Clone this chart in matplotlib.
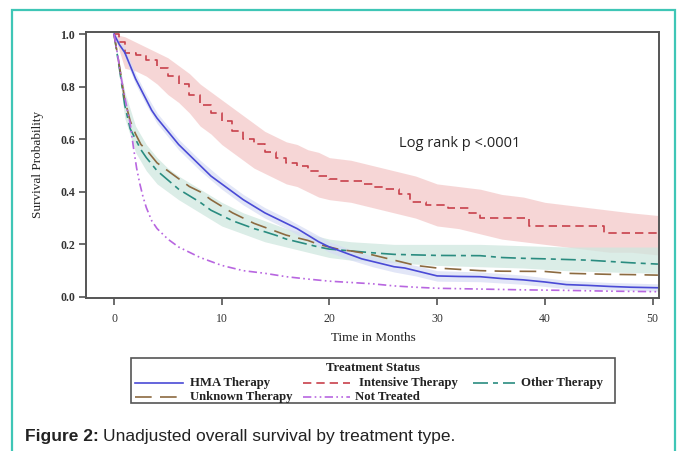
import matplotlib
matplotlib.use("Agg")
import matplotlib.pyplot as plt
from matplotlib.patches import Rectangle
from matplotlib.lines import Line2D

# ---------------- data ----------------
series_names = ["HMA Therapy", "Intensive Therapy", "Other Therapy", "Unknown Therapy", "Not Treated"]

t_hma = [0, 0.5, 1, 1.5, 2, 2.5, 3, 3.5, 4, 5, 6, 7, 8, 9, 10, 11, 12, 13, 14, 15, 16, 17, 18, 19, 20,
         21, 22, 23, 24, 25, 26, 27, 28, 29, 30, 32, 34, 36, 38, 40, 42, 44, 46, 48, 50.5]
s_hma = [1.0, 0.96, 0.93, 0.88, 0.83, 0.79, 0.75, 0.71, 0.68, 0.63, 0.58, 0.54, 0.50, 0.46, 0.43, 0.40,
         0.37, 0.345, 0.32, 0.30, 0.28, 0.26, 0.235, 0.21, 0.19, 0.175, 0.16, 0.145, 0.135, 0.125, 0.115,
         0.11, 0.10, 0.09, 0.08, 0.078, 0.077, 0.07, 0.065, 0.057, 0.047, 0.044, 0.04, 0.037, 0.035]

t_int = [0, 0.5, 1, 2, 3, 4, 5, 6, 7, 8, 9, 10, 11, 12, 13, 14, 15, 16, 17, 18, 19, 20, 21, 23, 24, 25,
         26.5, 27.5, 29, 31, 33, 34, 38.5, 45.5, 50.5]
s_int = [1.0, 0.97, 0.93, 0.92, 0.90, 0.87, 0.84, 0.81, 0.77, 0.73, 0.70, 0.67, 0.63, 0.60, 0.58, 0.55,
         0.53, 0.51, 0.50, 0.48, 0.46, 0.45, 0.44, 0.43, 0.42, 0.41, 0.39, 0.36, 0.35, 0.34, 0.32, 0.30,
         0.27, 0.245, 0.245]

t_oth = [0, 0.5, 1, 1.5, 2, 2.5, 3, 4, 5, 6, 7, 8, 9, 10, 11, 12, 13, 14, 15, 16, 17, 18, 19, 20, 22,
         24, 26, 28, 30, 34, 36, 38, 40, 44, 46, 48, 50.5]
s_oth = [1.0, 0.87, 0.73, 0.64, 0.60, 0.56, 0.53, 0.48, 0.445, 0.41, 0.385, 0.36, 0.33, 0.31, 0.29,
         0.275, 0.26, 0.248, 0.235, 0.22, 0.21, 0.20, 0.19, 0.182, 0.175, 0.168, 0.162, 0.16, 0.158,
         0.157, 0.15, 0.147, 0.145, 0.14, 0.135, 0.13, 0.125]

t_unk = [0, 0.5, 1, 1.5, 2, 2.5, 3, 4, 5, 6, 7, 8, 9, 10, 11, 12, 13, 14, 15, 16, 17, 18, 19, 20, 21,
         22, 23, 24, 25, 26, 27, 28, 30, 32, 34, 36, 40, 42, 44, 46, 48, 50.5]
s_unk = [1.0, 0.88, 0.75, 0.67, 0.62, 0.58, 0.56, 0.51, 0.48, 0.45, 0.42, 0.40, 0.37, 0.345, 0.32, 0.30,
         0.28, 0.265, 0.25, 0.235, 0.225, 0.215, 0.20, 0.19, 0.18, 0.175, 0.168, 0.16, 0.15, 0.14, 0.13,
         0.12, 0.11, 0.105, 0.10, 0.098, 0.097, 0.09, 0.088, 0.086, 0.085, 0.083]

t_not = [0, 0.3, 0.6, 0.9, 1.2, 1.5, 1.8, 2.1, 2.4, 2.7, 3, 3.5, 4, 5, 6, 7, 8, 9, 10, 11, 12, 14, 16,
         18, 20, 22, 24, 26, 28, 30, 34, 38, 42, 46, 50.5]
s_not = [1.0, 0.93, 0.85, 0.78, 0.72, 0.66, 0.57, 0.49, 0.43, 0.38, 0.34, 0.29, 0.26, 0.22, 0.19, 0.17,
         0.15, 0.135, 0.12, 0.11, 0.10, 0.09, 0.077, 0.068, 0.06, 0.055, 0.05, 0.042, 0.037, 0.033, 0.03,
         0.027, 0.025, 0.022, 0.02]

# confidence bands
t_band_int = [0, 1, 2, 3, 4, 5, 6, 7, 8, 9, 10, 11, 12, 13, 14, 15, 16, 17, 18, 19, 20, 22, 24, 26, 28,
              30, 32, 34, 36, 38, 40, 42, 44, 46, 48, 50.5]
int_hi = [1.0, 0.99, 0.97, 0.95, 0.93, 0.91, 0.88, 0.85, 0.81, 0.78, 0.75, 0.72, 0.69, 0.66, 0.63, 0.61,
          0.59, 0.58, 0.56, 0.55, 0.53, 0.52, 0.50, 0.48, 0.46, 0.43, 0.42, 0.41, 0.39, 0.38, 0.36, 0.35,
          0.34, 0.33, 0.32, 0.31]
int_lo = [1.0, 0.87, 0.86, 0.84, 0.81, 0.77, 0.74, 0.70, 0.65, 0.62, 0.58, 0.55, 0.52, 0.49, 0.47, 0.45,
          0.43, 0.42, 0.40, 0.38, 0.37, 0.36, 0.34, 0.32, 0.30, 0.27, 0.26, 0.24, 0.22, 0.21, 0.20, 0.19,
          0.18, 0.17, 0.17, 0.16]

t_band_oth = [0, 1, 2, 3, 4, 5, 6, 8, 10, 12, 14, 16, 18, 20, 22, 24, 26, 28, 30, 34, 38, 42, 46, 50.5]
oth_hi = [1.0, 0.78, 0.65, 0.58, 0.53, 0.49, 0.46, 0.41, 0.36, 0.32, 0.29, 0.26, 0.24, 0.22, 0.21, 0.205,
          0.20, 0.20, 0.20, 0.20, 0.195, 0.19, 0.19, 0.19]
oth_lo = [1.0, 0.68, 0.55, 0.48, 0.43, 0.40, 0.37, 0.32, 0.27, 0.24, 0.21, 0.19, 0.17, 0.15, 0.14, 0.135,
          0.13, 0.125, 0.12, 0.115, 0.11, 0.10, 0.095, 0.09]

t_band_hma = [0, 1, 2, 3, 4, 5, 6, 8, 10, 12, 14, 16, 18, 20, 22, 24, 26, 28, 30, 34, 38, 42, 46, 50.5]
hma_hi = [1.0, 0.95, 0.85, 0.77, 0.70, 0.65, 0.60, 0.52, 0.45, 0.39, 0.34, 0.30, 0.255, 0.21, 0.18,
          0.155, 0.135, 0.12, 0.10, 0.095, 0.083, 0.063, 0.055, 0.05]
hma_lo = [1.0, 0.91, 0.81, 0.73, 0.66, 0.61, 0.56, 0.48, 0.41, 0.35, 0.30, 0.26, 0.215, 0.17, 0.14,
          0.115, 0.095, 0.08, 0.06, 0.058, 0.048, 0.032, 0.027, 0.022]

xticks = [0, 10, 20, 30, 40, 50]
yticks = [0.0, 0.2, 0.4, 0.6, 0.8, 1.0]

colors = {"HMA Therapy": "#4a4ad6", "Intensive Therapy": "#c8414b", "Other Therapy": "#2a8c80",
          "Unknown Therapy": "#8c6a40", "Not Treated": "#b866e0"}
styles = {"HMA Therapy": "-", "Intensive Therapy": (0, (5, 3)), "Other Therapy": (0, (9, 3, 3, 3)),
          "Unknown Therapy": (0, (10, 5)), "Not Treated": (0, (5, 2, 1, 2, 1, 2))}

W, H = 677, 451


def fx(px):
    return px / W


def fy(py):
    return 1 - py / H


# ---------------- figure ----------------
fig = plt.figure(figsize=(6.77, 4.51), dpi=100)
fig.patch.set_facecolor("white")

# teal page border
fig.add_artist(Rectangle((fx(12), -0.05), fx(675) - fx(12), 1.05 - 10 / H, transform=fig.transFigure,
                         fill=False, edgecolor="#3fc6b6", linewidth=1.6))

ax = fig.add_axes([fx(86), fy(298), fx(659) - fx(86), (298 - 32) / H])

serif = ["Liberation Serif", "DejaVu Serif"]

ax.fill_between(t_band_int, int_lo, int_hi, color="#f4c9c9", alpha=0.75, linewidth=0)
ax.fill_between(t_band_oth, oth_lo, oth_hi, color="#cfe7df", alpha=0.75, linewidth=0)
ax.fill_between(t_band_hma, hma_lo, hma_hi, color="#d6dcf4", alpha=0.7, linewidth=0)

data = {"HMA Therapy": (t_hma, s_hma), "Intensive Therapy": (t_int, s_int),
        "Other Therapy": (t_oth, s_oth), "Unknown Therapy": (t_unk, s_unk),
        "Not Treated": (t_not, s_not)}
for name in ["Other Therapy", "Unknown Therapy", "Intensive Therapy", "HMA Therapy", "Not Treated"]:
    t, s = data[name]
    if name == "Intensive Therapy":
        ax.step(t, s, where="post", color=colors[name], linestyle=styles[name], linewidth=1.2)
    else:
        ax.plot(t, s, color=colors[name], linestyle=styles[name], linewidth=1.2)

ax.set_xlim(-2.6, 50.6)
ax.set_ylim(-0.004, 1.008)
ax.set_xticks(xticks)
ax.set_yticks(yticks)
ax.set_xticklabels([str(x) for x in xticks], fontfamily=serif, fontsize=8.5, color="#333333")
ax.set_yticklabels(["%.1f" % y for y in yticks], fontfamily=serif, fontsize=8.5, color="#333333",
                   fontweight="bold")
ax.tick_params(direction="out", length=5, width=1.1, color="#444444", pad=3)
ax.tick_params(axis="x", pad=6)
for sp in ax.spines.values():
    sp.set_color("#555555")
    sp.set_linewidth(1.4)

fig.text(fx(373), fy(338), "Time in Months", fontfamily=serif, fontsize=9.5, color="#222222",
         ha="center", va="center")
fig.text(fx(38), fy(164), "Survival Probability", fontfamily=serif, fontsize=9.5, color="#222222",
         ha="center", va="center", rotation=90)

ax.text(26.5, 0.585, "Log rank p <.0001", fontfamily="Open Sans", fontsize=10.5, color="#222222",
        va="center", ha="left")

# legend (drawn by hand in figure pixels)
fig.add_artist(Rectangle((fx(131), fy(403)), fx(615) - fx(131), (403 - 358) / H, transform=fig.transFigure,
                         fill=False, edgecolor="#555555", linewidth=1.2))
fig.text(fx(373), fy(368), "Treatment Status", fontfamily=serif, fontsize=9.2, fontweight="bold",
         color="#222222", ha="center", va="center")
legend_items = [("HMA Therapy", 135, 183, 190, 383), ("Intensive Therapy", 303, 350, 359, 383),
                ("Other Therapy", 473, 515, 521, 383), ("Unknown Therapy", 135, 183, 190, 397),
                ("Not Treated", 303, 350, 355, 397)]
for name, lx0, lx1, tx, ly in legend_items:
    fig.add_artist(Line2D([fx(lx0), fx(lx1)], [fy(ly), fy(ly)], transform=fig.transFigure,
                          color=colors[name], linestyle=styles[name], linewidth=1.2))
    fig.text(fx(tx), fy(ly), name, fontfamily=serif, fontsize=9.2, fontweight="bold",
             color="#222222", ha="left", va="center")

# caption
cap1 = fig.text(fx(25), fy(437), "Figure 2:", fontfamily="Liberation Sans", fontweight="bold",
                fontsize=12.5, color="#222222", va="center", ha="left")
fig.canvas.draw()
bb = cap1.get_window_extent()
fig.text((bb.x1 + 4) / W, fy(437), "Unadjusted overall survival by treatment type.",
         fontfamily="Liberation Sans", fontsize=12.5, color="#222222", va="center", ha="left")

fig.savefig("out.png", dpi=100)
